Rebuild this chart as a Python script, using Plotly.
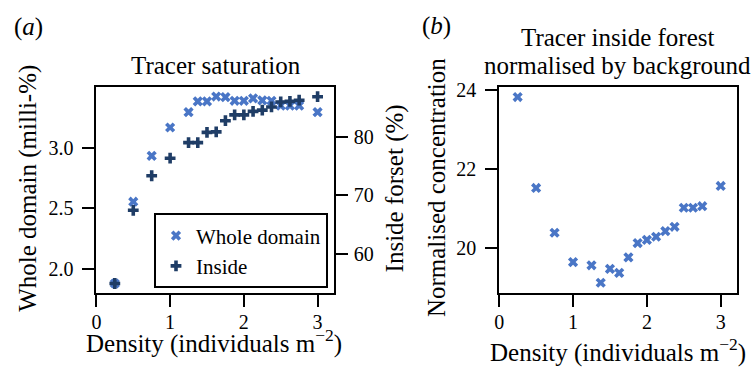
import plotly.graph_objects as go

density = [0.25, 0.5, 0.75, 1.0, 1.25, 1.375, 1.5, 1.625, 1.75, 1.875,
           2.0, 2.125, 2.25, 2.375, 2.5, 2.625, 2.75, 3.0]
whole_domain = [1.88, 2.556, 2.935, 3.169, 3.296, 3.385, 3.385, 3.425, 3.42, 3.39,
                3.39, 3.41, 3.393, 3.39, 3.35, 3.35, 3.35, 3.296]
inside = [54.9, 67.4, 73.3, 76.3, 78.95, 78.95, 80.7, 80.8, 82.7, 83.7,
          83.7, 84.3, 84.5, 85.05, 85.9, 86.0, 86.2, 86.8]
normalised = [23.81, 21.52, 20.39, 19.65, 19.57, 19.13, 19.48, 19.38, 19.77, 20.13,
              20.21, 20.29, 20.43, 20.54, 21.02, 21.02, 21.06, 21.57]

W, H = 753, 368
LIGHT = "#4a76c6"
DARK = "#1f3d66"
FONT = "Liberation Serif"

def px(x):
    return x / W

def py(y):
    return 1 - y / H

fig = go.Figure()
fig.add_trace(go.Scatter(x=density, y=whole_domain, mode="markers", name="Whole domain",
                         marker=dict(symbol="x", size=9, color=LIGHT, line=dict(width=0)),
                         xaxis="x", yaxis="y"))
fig.add_trace(go.Scatter(x=density, y=inside, mode="markers", name="Inside",
                         marker=dict(symbol="cross", size=9, color=DARK, line=dict(width=0)),
                         xaxis="x", yaxis="y2"))
fig.add_trace(go.Scatter(x=density, y=normalised, mode="markers", name="Normalised",
                         marker=dict(symbol="x", size=9, color=LIGHT, line=dict(width=0)),
                         xaxis="x2", yaxis="y3", showlegend=False))

ax_common = dict(showline=True, linecolor="black", linewidth=2, ticks="outside",
                 ticklen=12, tickwidth=2, tickcolor="black", showgrid=False,
                 zeroline=False, tickfont=dict(family=FONT, size=20, color="black"))

dom_a = [px(92), px(331)]
dom_b = [px(497.5), px(737.3)]
dom_y = [py(291), py(80.5)]

fig.update_layout(
    width=W, height=H, margin=dict(l=0, r=0, t=0, b=0),
    plot_bgcolor="white", paper_bgcolor="white",
    font=dict(family=FONT, color="black"),
    xaxis=dict(domain=dom_a, range=[0, 3.22], tickvals=[0, 1, 2, 3], mirror=True,
               anchor="y", ticklabelstandoff=-2, **ax_common),
    yaxis=dict(domain=dom_y, range=[1.804, 3.506], tickvals=[2.0, 2.5, 3.0],
               ticktext=["2.0", "2.5", "3.0"], mirror=True, anchor="x",
               ticklabelstandoff=5, **ax_common),
    yaxis2=dict(range=[53.33, 88.5], tickvals=[60, 70, 80], overlaying="y", side="right",
                anchor="x", ticklabelstandoff=2, **ax_common),
    xaxis2=dict(domain=dom_b, range=[0, 3.226], tickvals=[0, 1, 2, 3], mirror=True,
                anchor="y3", ticklabelstandoff=-2, **ax_common),
    yaxis3=dict(domain=dom_y, range=[18.88, 24.07], tickvals=[20, 22, 24], mirror=True,
                anchor="x2", ticklabelstandoff=5, **ax_common),
    legend=dict(x=px(150), y=py(210), xanchor="left", yanchor="top",
                bordercolor="black", borderwidth=2, bgcolor="white",
                font=dict(family=FONT, size=21, color="black")),
    showlegend=True,
)

def ann(text, x, y, size=25, angle=0, xanchor="center"):
    fig.add_annotation(text=text, x=px(x), y=py(y), xref="paper", yref="paper",
                       showarrow=False, textangle=angle, xanchor=xanchor, yanchor="middle",
                       font=dict(family=FONT, size=size, color="black"))

ann("(<i>a</i>)", 7, 19, xanchor="left")
ann("(<i>b</i>)", 418, 18, xanchor="left")
ann("Tracer saturation", 212, 59)
ann("Tracer inside forest", 617, 30)
ann("normalised by background", 617, 59)
ann("Whole domain (milli-%)", 23, 184, angle=-90)
ann("Inside forset (%)", 393, 184, angle=-90)
ann("Normalised concentration", 434, 184, angle=-90)
ann("Density (individuals m<sup>−2</sup>)", 210, 341)
ann("Density (individuals m<sup>−2</sup>)", 617, 350)

post = ("document.documentElement.style.margin='0';document.body.style.margin='0';"
        "document.body.style.padding='0';document.body.style.overflow='hidden';"
        "var d=document.querySelector('.plotly-graph-div');"
        "d.style.position='fixed';d.style.left='0px';d.style.top='0px';")
fig.write_html("out.html", post_script=post, config={"displayModeBar": False})
